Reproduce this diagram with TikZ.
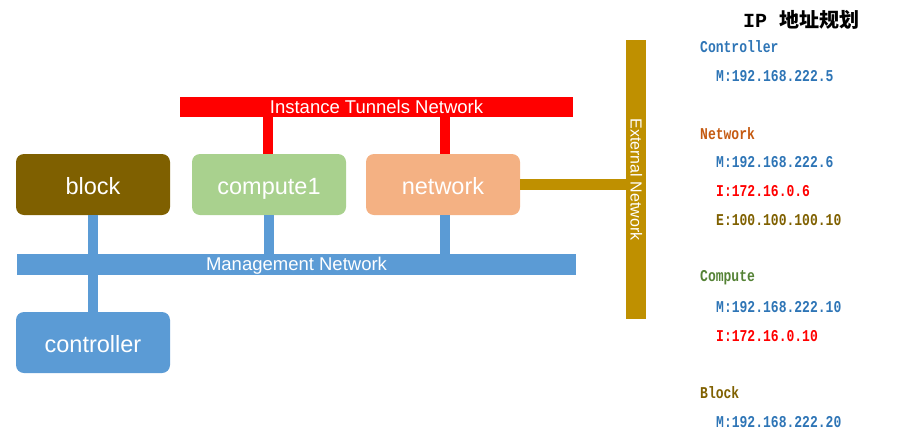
\documentclass[tikz,border=0pt]{standalone}
\usepackage{fontspec}
\setmainfont{Liberation Sans}
\newfontfamily\monof[FakeStretch=0.79]{Liberation Mono}
\newfontfamily\titlemono{Liberation Mono}
\newfontfamily\cjk{Noto Sans CJK SC}
\definecolor{cblock}{HTML}{7F6000}
\definecolor{ccomp}{HTML}{A9D18E}
\definecolor{cnet}{HTML}{F4B183}
\definecolor{cblue}{HTML}{5B9BD5}
\definecolor{cext}{HTML}{BF9000}
\definecolor{cred}{HTML}{FF0000}
\definecolor{tblue}{HTML}{2E75B6}
\definecolor{torange}{HTML}{C55A11}
\definecolor{tgreen}{HTML}{548235}
\definecolor{tbrown}{HTML}{7F6000}
\tikzset{
  hostbox/.style={rectangle, rounded corners=8pt, minimum width=154pt, minimum height=61pt, inner sep=0pt, text=white, text height=19pt, text depth=0pt, font=\fontsize{23.5}{25}\selectfont},
  netbar/.style={rectangle, inner sep=0pt, text=white, text height=12.5pt, text depth=0pt, font=\fontsize{18.5}{20}\selectfont},
  link/.style={line width=10pt},
  iptext/.style={anchor=west, inner sep=0pt, font=\monof\bfseries\fontsize{16.5}{18}\selectfont},
}
\begin{document}
\begin{tikzpicture}[x=1pt,y=-1pt]
\useasboundingbox (0,0) rectangle (901,447);
% network bars
\node[netbar, fill=cred, minimum width=393pt, minimum height=20pt] (tun) at (376.5,107) {Instance Tunnels Network};
\node[netbar, fill=cblue, minimum width=559pt, minimum height=21pt] (mgmt) at (296.5,264.5) {Management Network};
\node[netbar, fill=cext, minimum width=279pt, minimum height=20pt, rotate=-90, text height=11pt, font=\fontsize{16}{18}\selectfont] (ext) at (636,179.5) {External Network};
% hosts
\node[hostbox, fill=cblock] (block) at (93,184.5) {block};
\node[hostbox, fill=ccomp] (compute) at (269,184.5) {compute1};
\node[hostbox, fill=cnet] (network) at (443,184.5) {network};
\node[hostbox, fill=cblue] (controller) at (93,342.5) {controller};
\coordinate (netS) at ([xshift=2pt]network.south);
\coordinate (netN) at ([xshift=2pt]network.north);
\coordinate (compN) at ([xshift=-1pt]compute.north);
% links
\draw[link, cblue] (block.south) -- (mgmt.north -| block.south);
\draw[link, cblue] (mgmt.south -| controller.north) -- (controller.north);
\draw[link, cblue] (compute.south) -- (mgmt.north -| compute.south);
\draw[link, cblue] (netS) -- (mgmt.north -| netS);
\draw[link, cred] (compN) -- (tun.south -| compN);
\draw[link, cred] (netN) -- (tun.south -| netN);
\draw[line width=11pt, cext] (network.east) -- (network.east -| ext.south);
% IP plan
\node[anchor=center, inner sep=0pt] (title) at (801,20) {{\titlemono\bfseries\fontsize{20}{22}\selectfont IP }{\cjk\bfseries\fontsize{20}{22}\selectfont 地址规划}};
\node[iptext, text=tblue] (c0) at (700,47) {Controller};
\node[iptext, text=tblue] (c1) at (716,76) {M:192.168.222.5};
\node[iptext, text=torange] (n0) at (700,134) {Network};
\node[iptext, text=tblue] (n1) at (716,162) {M:192.168.222.6};
\node[iptext, text=cred] (n2) at (716,191) {I:172.16.0.6};
\node[iptext, text=tbrown] (n3) at (716,220) {E:100.100.100.10};
\node[iptext, text=tgreen] (p0) at (700,278) {Compute};
\node[iptext, text=tblue] (p1) at (716,307) {M:192.168.222.10};
\node[iptext, text=cred] (p2) at (716,336) {I:172.16.0.10};
\node[iptext, text=tbrown] (b0) at (700,393) {Block};
\node[iptext, text=tblue] (b1) at (716,422) {M:192.168.222.20};
\end{tikzpicture}
\end{document}
